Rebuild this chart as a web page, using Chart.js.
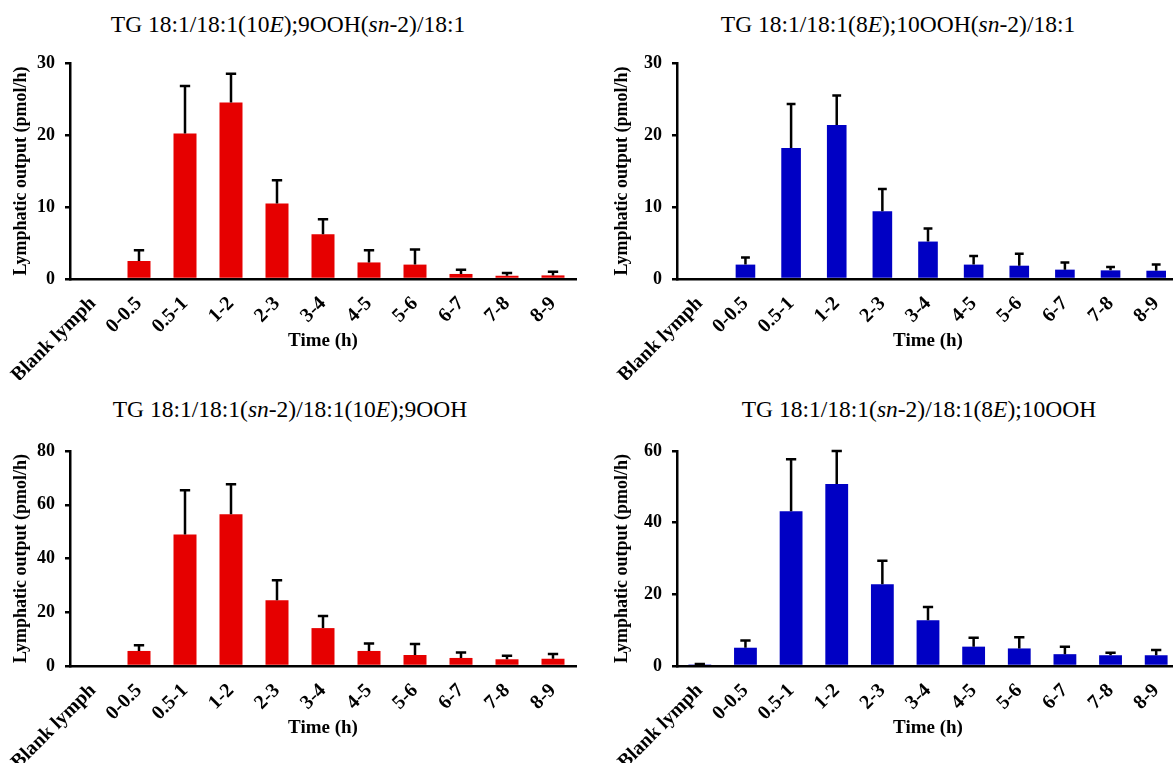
<!DOCTYPE html>
<html>
<head>
<meta charset="utf-8">
<script src="https://cdn.jsdelivr.net/npm/chart.js@4/dist/chart.umd.min.js"></script>
<style>
  html, body { margin: 0; padding: 0; background: #fff; overflow: hidden; width: 1173px; height: 763px; }
  canvas { position: absolute; }
  .ttl { position: absolute; font-family: 'Liberation Serif', 'Times New Roman', serif; font-size: 23.5px; color: #000; white-space: nowrap; transform: translateX(-50%); }
</style>
</head>
<body>
<div class="ttl" style="left:288px; top:11px">TG 18:1/18:1(10<i>E</i>);9OOH(<i>sn</i>-2)/18:1</div>
<div class="ttl" style="left:898px; top:11px">TG 18:1/18:1(8<i>E</i>);10OOH(<i>sn</i>-2)/18:1</div>
<div class="ttl" style="left:290px; top:396px">TG 18:1/18:1(<i>sn</i>-2)/18:1(10<i>E</i>);9OOH</div>
<div class="ttl" style="left:919px; top:396px">TG 18:1/18:1(<i>sn</i>-2)/18:1(8<i>E</i>);10OOH</div>

<canvas id="c1" width="590" height="380" style="left:0; top:0"></canvas>
<canvas id="c2" width="600" height="380" style="left:590px; top:0"></canvas>
<canvas id="c3" width="590" height="383" style="left:0; top:380px"></canvas>
<canvas id="c4" width="600" height="383" style="left:590px; top:380px"></canvas>

<script>
// tid-intervall (h)
const categories = ['Blank lymph', '0-0.5', '0.5-1', '1-2', '2-3', '3-4', '4-5', '5-6', '6-7', '7-8', '8-9'];

// TG 18:1/18:1(10E);9OOH(sn-2)/18:1
const mean1 = [0, 2.5, 20.2, 24.5, 10.5, 6.2, 2.3, 2.0, 0.7, 0.45, 0.5];
const err1  = [0, 1.5, 6.6, 4.0, 3.2, 2.1, 1.7, 2.1, 0.6, 0.4, 0.5];

// TG 18:1/18:1(8E);10OOH(sn-2)/18:1
const mean2 = [0, 2.0, 18.2, 21.4, 9.4, 5.2, 2.0, 1.85, 1.3, 1.2, 1.15];
const err2  = [0, 1.0, 6.1, 4.1, 3.1, 1.8, 1.2, 1.65, 1.0, 0.45, 0.85];

// TG 18:1/18:1(sn-2)/18:1(10E);9OOH
const mean3 = [0, 5.6, 48.9, 56.5, 24.5, 14.1, 5.6, 4.1, 3.0, 2.5, 2.7];
const err3  = [0, 2.1, 16.5, 11.1, 7.4, 4.5, 2.8, 4.1, 2.0, 1.3, 1.8];

// TG 18:1/18:1(sn-2)/18:1(8E);10OOH
const mean4 = [0.45, 5.1, 43.2, 50.8, 22.8, 12.8, 5.4, 4.9, 3.3, 3.0, 3.0];
const err4  = [0.1, 2.0, 14.5, 9.2, 6.6, 3.7, 2.5, 3.1, 2.1, 0.7, 1.5];

const yTicks1 = { max: 30, step: 10 };
const yTicks2 = { max: 30, step: 10 };
const yTicks3 = { max: 80, step: 20 };
const yTicks4 = { max: 60, step: 20 };

const RED = '#e60000';
const BLUE = '#0000c4';
const serif = "'Liberation Serif', 'Times New Roman', serif";

// ritar bara övre felstaplar med tvärstreck
const errorBars = {
    id: 'errorBars',
    afterDatasetsDraw(chart) {
        const ctx = chart.ctx;
        const y = chart.scales.y;
        const errs = chart.options.plugins.errorBars.errors;
        const meta = chart.getDatasetMeta(0);
        ctx.save();
        ctx.strokeStyle = '#000';
        ctx.lineWidth = 2.5;
        meta.data.forEach((bar, i) => {
            if (!errs[i]) return;
            const v = chart.data.datasets[0].data[i];
            const top = y.getPixelForValue(v + errs[i]);
            const cap = bar.width * 0.45;
            ctx.beginPath();
            ctx.moveTo(bar.x, bar.y);
            ctx.lineTo(bar.x, top);
            ctx.moveTo(bar.x - cap / 2, top);
            ctx.lineTo(bar.x + cap / 2, top);
            ctx.stroke();
        });
        ctx.restore();
    }
};

function makeChart(id, values, errors, color, yt, box) {
    const ctx = document.getElementById(id).getContext('2d');
    return new Chart(ctx, {
        type: 'bar',
        data: {
            labels: categories,
            datasets: [{
                data: values,
                backgroundColor: color,
                borderWidth: 0,
                barPercentage: box.bar,
                categoryPercentage: 1
            }]
        },
        options: {
            responsive: false,
            animation: false,
            layout: { padding: { left: box.padLeft, right: box.padRight, top: box.padTop, bottom: 0 } },
            plugins: {
                legend: { display: false },
                tooltip: { enabled: false },
                errorBars: { errors: errors }
            },
            scales: {
                x: {
                    grid: { display: false },
                    border: { display: true, color: '#000', width: 2.5 },
                    ticks: {
                        color: '#000',
                        font: { family: serif, size: 20, weight: 'bold' },
                        minRotation: 45, maxRotation: 45,
                        autoSkip: false,
                        padding: 5
                    },
                    title: {
                        display: true,
                        text: 'Time (h)',
                        color: '#000',
                        font: { family: serif, size: 19, weight: 'bold' },
                        padding: { top: 0, bottom: box.timeOff }
                    },
                    afterFit(s) { s.height = box.xHeight; }
                },
                y: {
                    min: 0,
                    max: yt.max,
                    grid: { drawOnChartArea: false, drawTicks: true, tickLength: 5, color: '#000', lineWidth: 2.5 },
                    border: { display: true, color: '#000', width: 2.5 },
                    ticks: {
                        stepSize: yt.step,
                        color: '#000',
                        font: { family: serif, size: 18, weight: 'bold' },
                        padding: 10
                    },
                    title: {
                        display: true,
                        text: 'Lymphatic output (pmol/h)',
                        color: '#000',
                        font: { family: serif, size: 18, weight: 'bold' },
                        padding: 0
                    },
                    afterFit(s) { s.width = box.yWidth; }
                }
            }
        },
        plugins: [errorBars]
    });
}

// chart area: top 63 / bottom 279 (övre), top 451 / bottom 666 (nedre)
makeChart('c1', mean1, err1, RED, yTicks1,
    { bar: 0.5, padLeft: 11, padRight: 14, padTop: 63, yWidth: 59, xHeight: 101, timeOff: 27.6 });
makeChart('c2', mean2, err2, BLUE, yTicks2,
    { bar: 0.43, padLeft: 22, padRight: 11, padTop: 63, yWidth: 65, xHeight: 101, timeOff: 27.6 });
makeChart('c3', mean3, err3, RED, yTicks3,
    { bar: 0.5, padLeft: 11, padRight: 14, padTop: 71, yWidth: 59, xHeight: 97, timeOff: 23.6 });
makeChart('c4', mean4, err4, BLUE, yTicks4,
    { bar: 0.5, padLeft: 22, padRight: 11, padTop: 71, yWidth: 65, xHeight: 97, timeOff: 23.6 });
</script>
</body>
</html>
